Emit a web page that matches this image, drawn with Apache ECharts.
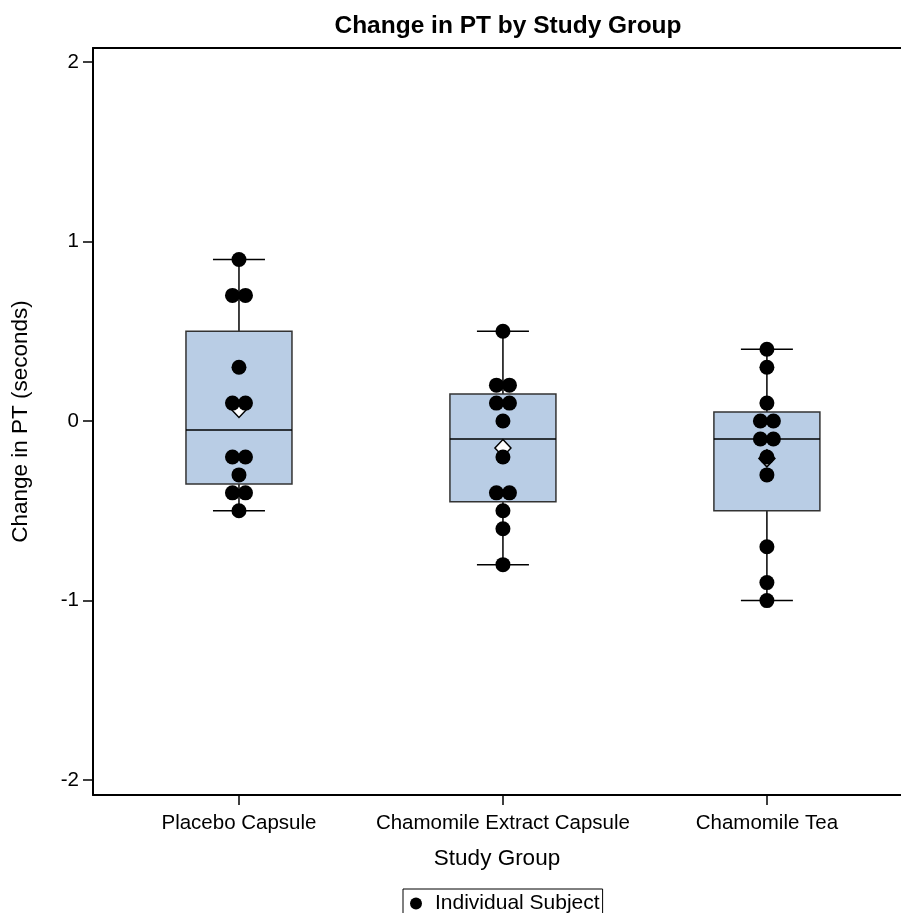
<!DOCTYPE html>
<html><head><meta charset="utf-8">
<script src="https://cdn.jsdelivr.net/npm/echarts@6/dist/echarts.min.js"></script>
<style>html,body{margin:0;padding:0;background:#fff}#c{width:901px;height:913px}</style>
</head><body><div id="c"></div>
<script>
const categories = ['Placebo Capsule', 'Chamomile Extract Capsule', 'Chamomile Tea'];
const placeboValues = [0.9, 0.7, 0.7, 0.3, 0.1, 0.1, -0.2, -0.2, -0.3, -0.4, -0.4, -0.5];
const extractValues = [0.5, 0.2, 0.2, 0.1, 0.1, 0.0, -0.2, -0.4, -0.4, -0.5, -0.6, -0.8];
const teaValues = [0.4, 0.3, 0.1, 0.0, 0.0, -0.1, -0.1, -0.2, -0.3, -0.7, -0.9, -1.0];
const whiskerLow = [-0.5, -0.8, -1.0];
const q1Values = [-0.35, -0.45, -0.5];
const medianValues = [-0.05, -0.1, -0.1];
const q3Values = [0.5, 0.15, 0.05];
const whiskerHigh = [0.9, 0.5, 0.4];
const meanValues = [0.067, -0.15, -0.208];
const yTickValues = [-2, -1, 0, 1, 2];
const xTickValues = [0, 1, 2];

const FONT = '"Liberation Sans", Arial, Helvetica, sans-serif';
const groups = [placeboValues, extractValues, teaValues];

// dodge identical values side by side (pixel offsets)
const DODGE = 13;
const pointData = [];
groups.forEach((vals, gi) => {
  const counts = {};
  vals.forEach(v => { counts[v] = (counts[v] || 0) + 1; });
  const seen = {};
  vals.forEach(v => {
    const n = counts[v];
    const k = seen[v] || 0;
    seen[v] = k + 1;
    const off = (k - (n - 1) / 2) * DODGE;
    pointData.push({ value: [gi, v], symbolOffset: [off, 0] });
  });
});

const boxData = categories.map((c, i) => [i, whiskerLow[i], q1Values[i], medianValues[i], q3Values[i], whiskerHigh[i]]);
const meanData = categories.map((c, i) => [i, meanValues[i]]);

const chart = echarts.init(document.getElementById('c'), null, { renderer: 'canvas' });
chart.setOption({
  backgroundColor: '#fff',
  animation: false,
  title: {
    text: 'Change in PT by Study Group',
    left: 503, textAlign: 'center', top: 9,
    textStyle: { fontFamily: FONT, fontWeight: 'bold', fontSize: 24.5, color: '#000' }
  },
  legend: {
    data: [{ name: 'Individual Subject', icon: 'circle' }],
    left: 403, top: 889,
    padding: [4, 3, 4, 7],
    itemWidth: 12, itemHeight: 12,
    borderColor: '#000', borderWidth: 1,
    textStyle: { fontFamily: FONT, fontSize: 21, color: '#000', padding: [0, 0, 0, 8] },
    selectedMode: false
  },
  grid: { left: 93, top: 48, right: 0, height: 747, show: false },
  xAxis: [{
    type: 'value', min: -0.553, max: 2.508,
    name: 'Study Group', nameLocation: 'middle', nameGap: 52,
    nameTextStyle: { fontFamily: FONT, fontSize: 22.5, color: '#000' },
    axisLine: { show: true, onZero: false, lineStyle: { color: '#000', width: 2 } },
    axisTick: { show: true, length: 10, customValues: xTickValues, lineStyle: { color: '#000', width: 1.5 } },
    axisLabel: { customValues: xTickValues, margin: 18, fontFamily: FONT, fontSize: 20.5, color: '#000',
      formatter: v => categories[Math.round(v)] },
    splitLine: { show: false }
  }, {
    type: 'value', position: 'top', min: -0.553, max: 2.508,
    axisLine: { show: true, onZero: false, lineStyle: { color: '#000', width: 2 } },
    axisTick: { show: false }, axisLabel: { show: false }, splitLine: { show: false }
  }],
  yAxis: {
    type: 'value', min: -2.083, max: 2.078,
    name: 'Change in PT (seconds)', nameLocation: 'middle', nameGap: 61, nameRotate: 90,
    nameTextStyle: { fontFamily: FONT, fontSize: 22.5, color: '#000' },
    axisLine: { show: true, onZero: false, lineStyle: { color: '#000', width: 2 } },
    axisTick: { show: true, length: 10, customValues: yTickValues, lineStyle: { color: '#000', width: 1.5 } },
    axisLabel: { customValues: yTickValues, margin: 14, fontFamily: FONT, fontSize: 20.5, color: '#000' },
    splitLine: { show: false }
  },
  series: [
    {
      type: 'custom', name: 'Box', z: 2,
      data: boxData,
      encode: { x: 0, y: [1, 2, 3, 4, 5] },
      renderItem(params, api) {
        const x = api.value(0);
        const lo = api.coord([x, api.value(1)]);
        const q1 = api.coord([x, api.value(2)]);
        const md = api.coord([x, api.value(3)]);
        const q3 = api.coord([x, api.value(4)]);
        const hi = api.coord([x, api.value(5)]);
        const cx = lo[0];
        const bw = 106, cw = 52;
        const ls = { stroke: '#000', lineWidth: 1.5 };
        return {
          type: 'group', children: [
            { type: 'line', shape: { x1: cx, y1: hi[1], x2: cx, y2: q3[1] }, style: ls },
            { type: 'line', shape: { x1: cx, y1: q1[1], x2: cx, y2: lo[1] }, style: ls },
            { type: 'line', shape: { x1: cx - cw / 2, y1: hi[1], x2: cx + cw / 2, y2: hi[1] }, style: ls },
            { type: 'line', shape: { x1: cx - cw / 2, y1: lo[1], x2: cx + cw / 2, y2: lo[1] }, style: ls },
            { type: 'rect', shape: { x: cx - bw / 2, y: q3[1], width: bw, height: q1[1] - q3[1] },
              style: { fill: '#b9cde5', stroke: '#333', lineWidth: 1.5 } },
            { type: 'line', shape: { x1: cx - bw / 2, y1: md[1], x2: cx + bw / 2, y2: md[1] }, style: ls }
          ]
        };
      }
    },
    {
      type: 'scatter', name: 'Mean', z: 3,
      data: meanData, symbol: 'diamond', symbolSize: [16, 17],
      itemStyle: { color: '#fff', borderColor: '#000', borderWidth: 1.5, opacity: 1 }
    },
    {
      type: 'scatter', name: 'Individual Subject', z: 4,
      data: pointData, symbol: 'circle', symbolSize: 15,
      itemStyle: { color: '#000', opacity: 1 }
    }
  ]
});
</script></body></html>
